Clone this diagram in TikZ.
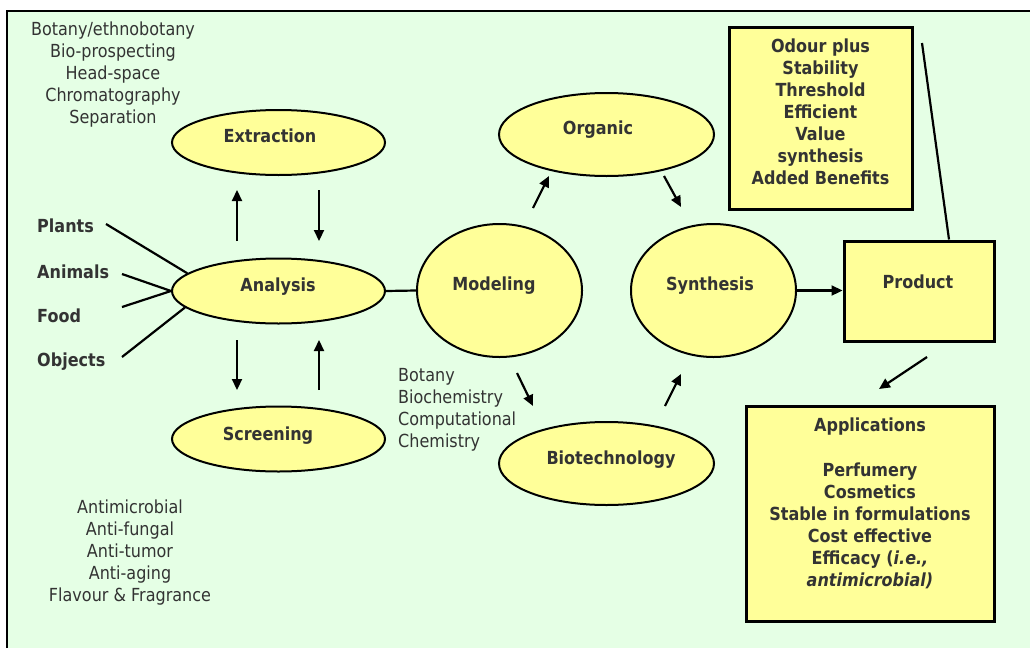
\documentclass[tikz,border=0pt]{standalone}
\usepackage{fontspec}
\setmainfont{DejaVu Sans}[FakeStretch=0.89,
  BoldFont={DejaVu Sans Bold},
  ItalicFont={DejaVu Sans Oblique},
  BoldItalicFont={DejaVu Sans Bold Oblique}]
\usetikzlibrary{shapes.geometric,arrows.meta,calc}
\definecolor{bgreen}{HTML}{E5FFE5}
\definecolor{pale}{HTML}{FFFF99}
\definecolor{ink}{HTML}{333333}

\begin{document}
\begin{tikzpicture}[x=1pt,y=-1pt,
  every node/.style={text=ink, font=\fontsize{18}{22}\selectfont},
  oval/.style={ellipse, draw=black, fill=pale, line width=2pt, inner sep=0pt},
  card/.style={rectangle, draw=black, fill=pale, line width=3pt, inner sep=0pt},
  link/.style={line width=2.2pt},
  flow/.style={line width=2.2pt, -{Triangle[length=11pt,width=10pt]}},
  lbl/.style={font=\bfseries\fontsize{18}{22}\selectfont, anchor=base, inner sep=0pt},
  list/.style={align=center, anchor=north, inner sep=0pt},
  blist/.style={list, font=\bfseries\fontsize{18}{22}\selectfont}]

% page and frame
\useasboundingbox (0,0) rectangle (1030,648);
\fill[white] (0,0) rectangle (1030,648);
\fill[bgreen] (7,10.5) rectangle (1030,648);
\draw[line width=2pt] (7,648) -- (7,10.5) -- (1030,10.5);

% ellipses
\node[oval, minimum width=213pt, minimum height=65pt] (ext) at (278.5,142.5) {};
\node[oval, minimum width=213pt, minimum height=65pt] (ana) at (278.5,291) {};
\node[oval, minimum width=213pt, minimum height=65pt] (scr) at (278.5,439) {};
\node[oval, minimum width=165pt, minimum height=133pt] (mod) at (499.5,290.5) {};
\node[oval, minimum width=215pt, minimum height=83pt] (org) at (606.5,134.5) {};
\node[oval, minimum width=215pt, minimum height=83pt] (bio) at (606.5,463.5) {};
\node[oval, minimum width=165pt, minimum height=133pt] (syn) at (713.5,290.5) {};

% boxes
\node[card, minimum width=150pt, minimum height=100pt] (prod) at (919,291) {};
\node[card, minimum width=183pt, minimum height=182pt] (odour) at (820.5,118) {};
\node[card, minimum width=248pt, minimum height=215pt] (app) at (870,513.5) {};

% node titles
\node[lbl] (ext-t) at (270,142.5) {Extraction};
\node[lbl] (ana-t) at (278,291) {Analysis};
\node[lbl] (scr-t) at (268,440) {Screening};
\node[lbl] (mod-t) at (494,290) {Modeling};
\node[lbl] (org-t) at (598,134) {Organic};
\node[lbl] (bio-t) at (611,464) {Biotechnology};
\node[lbl] (syn-t) at (710,290) {Synthesis};
\node[lbl] (prod-t) at (918,288.5) {Product};

% sources
\node[lbl, anchor=base west] (plants) at (37,232) {Plants};
\node[lbl, anchor=base west] (animals) at (37,278) {Animals};
\node[lbl, anchor=base west] (food) at (37,322) {Food};
\node[lbl, anchor=base west] (objects) at (37,366) {Objects};

% text lists
\node[list] (methods) at (113,21.3)
  {Botany/ethnobotany\\Bio-prospecting\\Head-space\\Chromatography\\Separation};
\node[list] (activities) at (130,499.6)
  {Antimicrobial\\Anti-fungal\\Anti-tumor\\Anti-aging\\Flavour \& Fragrance};
\node[list, align=left, anchor=north west] (fields) at (398,368.6)
  {Botany\\Biochemistry\\Computational\\Chemistry};
\node[blist] (props) at (820.5,38.6)
  {Odour plus\\Stability\\Threshold\\Efficient\\Value\\synthesis\\Added Benefits};
\node[blist] (uses) at (870,418)
  {Applications\\[23pt]Perfumery\\Cosmetics\\Stable in formulations\\Cost effective\\Efficacy (\textit{i.e.,}\\\textit{antimicrobial)}};

% free ends of the connectors
\coordinate (p0) at (106,224);
\coordinate (a0) at (122,274);
\coordinate (f0) at (122,307);
\coordinate (o0) at (122,357);
\coordinate (eu0) at (237,241); \coordinate (eu1) at (237,190);
\coordinate (ed0) at (319,190); \coordinate (ed1) at (319,241);
\coordinate (sd0) at (237,340); \coordinate (sd1) at (237,390);
\coordinate (su0) at (319,390); \coordinate (su1) at (319,340);
\coordinate (mo0) at (533,208); \coordinate (mo1) at (549,176);
\coordinate (os0) at (664,176); \coordinate (os1) at (681,207);
\coordinate (mb0) at (517,373); \coordinate (mb1) at (533,406);
\coordinate (bs0) at (665,406); \coordinate (bs1) at (681,374);
\coordinate (pa0) at (927,357); \coordinate (pa1) at (879,389);
\coordinate (top) at (922,43);

% connectors
\draw[link] (p0) -- (ana.169.6);
\draw[link] (a0) -- (ana.west);
\draw[link] (f0) -- (ana.west);
\draw[link] (o0) -- (ana.190.4);
\draw[flow] (eu0) -- (eu1);
\draw[flow] (ed0) -- (ed1);
\draw[flow] (sd0) -- (sd1);
\draw[flow] (su0) -- (su1);
\draw[link] (ana.east) -- (mod.west);
\draw[flow] (mo0) -- (mo1);
\draw[flow] (os0) -- (os1);
\draw[flow] (mb0) -- (mb1);
\draw[flow] (bs0) -- (bs1);
\draw[flow] (syn.east) -- (syn.east -| prod.west);
\draw[link] (top) -- ([xshift=30pt]prod.north);
\draw[flow] (pa0) -- (pa1);
\end{tikzpicture}
\end{document}
